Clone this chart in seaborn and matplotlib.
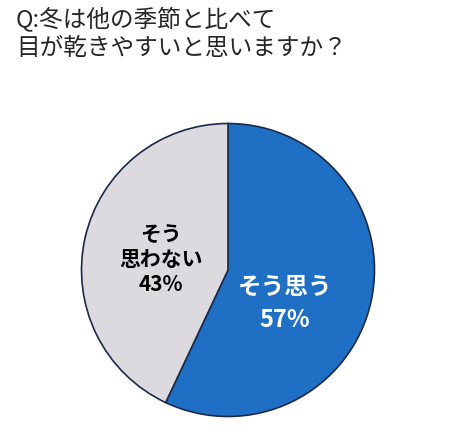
import matplotlib
matplotlib.use("Agg")
import matplotlib.pyplot as plt
import seaborn as sns

sns.set_theme(style="white")
plt.rcParams['font.family'] = ['Noto Sans CJK JP', 'DejaVu Sans']

labels = ["そう思う", "そう\n思わない"]
values = [57, 43]
colors = ["#1F6FC5", "#DDDADF"]

fig = plt.figure(figsize=(4.56, 4.47), dpi=100)
ax = fig.add_axes([0.5 - 0.325, 0.396 - 0.331, 0.65, 0.662])
wedges, _ = ax.pie(values, colors=colors, startangle=90, counterclock=False,
                   wedgeprops=dict(edgecolor="#1B2A4A", linewidth=1.2))
ax.set_xlim(-1.01, 1.01)
ax.set_ylim(-1.01, 1.01)
ax.set_aspect('equal')
ax.text(0.39, -0.23, f"{labels[0]}\n{values[0]}%", color="white", fontsize=17,
        ha="center", va="center", linespacing=1.5, fontweight="bold")
ax.text(-0.46, 0.07, f"{labels[1]}\n{values[1]}%", color="black", fontsize=15,
        ha="center", va="center", linespacing=1.2, fontweight="bold")
fig.text(0.035, 0.985, "Q:冬は他の季節と比べて\n目が乾きやすいと思いますか？", fontsize=17,
         ha="left", va="top", linespacing=1.3)
fig.savefig("out.png", dpi=100)
